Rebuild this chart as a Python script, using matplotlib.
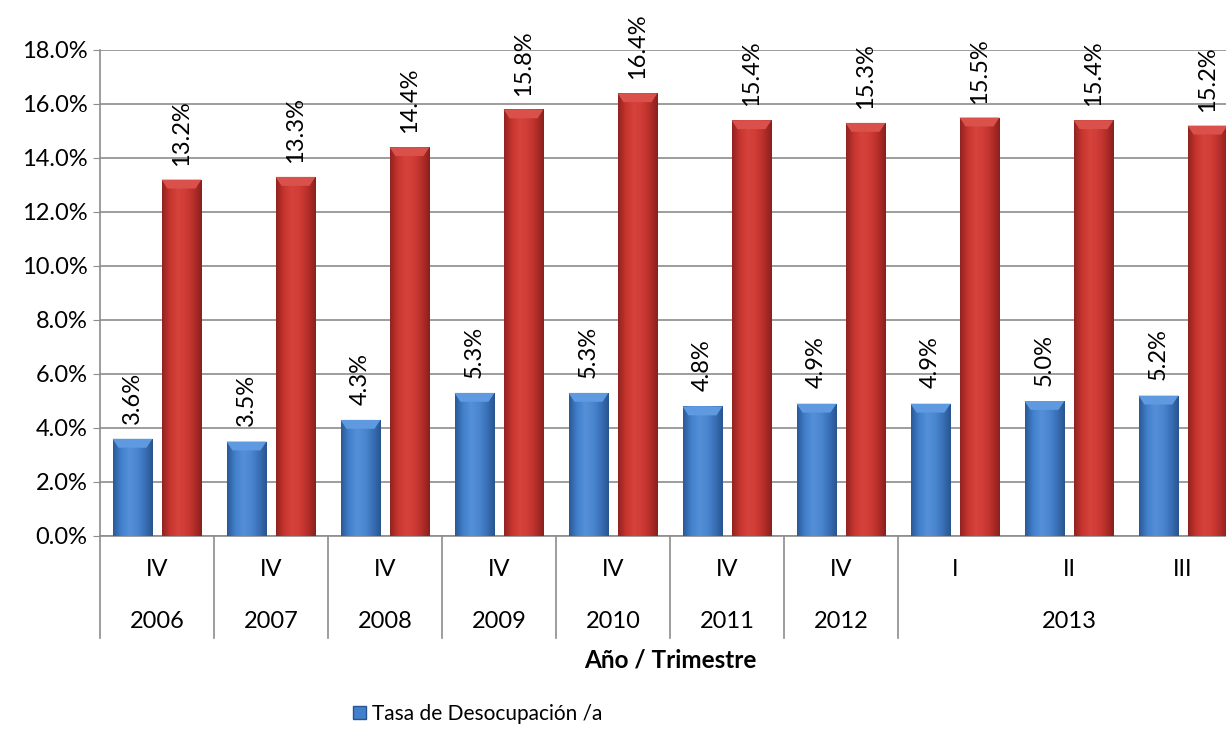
import numpy as np
import matplotlib
matplotlib.use("Agg")
import matplotlib.pyplot as plt
from matplotlib.colors import LinearSegmentedColormap
from matplotlib.patches import Patch, Polygon

plt.rcParams["font.family"] = ["Lato", "DejaVu Sans"]

quarters = ["IV", "IV", "IV", "IV", "IV", "IV", "IV", "I", "II", "III"]
years = ["2006", "2007", "2008", "2009", "2010", "2011", "2012", "2013"]
year_span = [1, 1, 1, 1, 1, 1, 1, 3]
desocupacion = [3.6, 3.5, 4.3, 5.3, 5.3, 4.8, 4.9, 4.9, 5.0, 5.2]
serie2 = [13.2, 13.3, 14.4, 15.8, 16.4, 15.4, 15.3, 15.5, 15.4, 15.2]
legend_label = "Tasa de Desocupación /a"

W, H = 1226, 730
FS = 17
fig = plt.figure(figsize=(W / 100, H / 100), dpi=100)
ax = fig.add_axes([100 / W, (H - 536) / H, 1140 / W, 486 / H])

BLUE = LinearSegmentedColormap.from_list(
    "b", ["#2a5a98", "#4280cc", "#548fd8", "#4b87d0", "#3a71b8", "#28558f"])
RED = LinearSegmentedColormap.from_list(
    "r", ["#922320", "#c8352f", "#d6433d", "#cf3c36", "#b72f2a", "#8a201d"])
BLUE_TOP = "#5f9ae0"
RED_TOP = "#da514b"

x = np.arange(len(quarters))
bw, off = 0.35, 0.215
grad = np.linspace(0, 1, 64).reshape(1, -1)


def fancy_bars(xs, vals, cmap, topc):
    bars = ax.bar(xs, vals, width=bw, color="none", edgecolor="none", zorder=3)
    for b in bars:
        x0, w, h = b.get_x(), b.get_width(), b.get_height()
        im = ax.imshow(grad, extent=[x0, x0 + w, 0, h], aspect="auto",
                       cmap=cmap, zorder=3, interpolation="bilinear")
        im.set_clip_path(b)
        dx, dy = w * 0.15, 0.33
        ax.add_patch(Polygon([[x0, h], [x0 + w, h], [x0 + w - dx, h - dy],
                              [x0 + dx, h - dy]], closed=True,
                             facecolor=topc, edgecolor="none", zorder=4))
    return bars


fancy_bars(x - off, desocupacion, BLUE, BLUE_TOP)
fancy_bars(x + off, serie2, RED, RED_TOP)

for xi, v in zip(x - off, desocupacion):
    ax.annotate(f"{v:.1f}%", (xi, v), xytext=(0, 11), textcoords="offset points",
                rotation=90, ha="center", va="bottom", fontsize=FS, zorder=5)
for xi, v in zip(x + off, serie2):
    ax.annotate(f"{v:.1f}%", (xi, v), xytext=(0, 10), textcoords="offset points",
                rotation=90, ha="center", va="bottom", fontsize=FS, zorder=5,
                annotation_clip=False)

ax.set_xlim(-0.5, len(quarters) - 0.5)
ax.set_ylim(0, 18)
ax.set_yticks(np.arange(0, 18.1, 2))
ax.set_yticklabels([f"{t:.1f}%" for t in np.arange(0, 18.1, 2)], fontsize=FS)
ax.yaxis.grid(True, color="#8c8c8c", lw=1.2, zorder=0)
ax.set_axisbelow(True)
ax.set_xticks([])
ax.tick_params(axis="y", length=5, color="#8c8c8c", pad=4)
for s in ["top", "right"]:
    ax.spines[s].set_visible(False)
for s in ["left", "bottom"]:
    ax.spines[s].set_color("#8c8c8c")
    ax.spines[s].set_linewidth(1.2)

# multi-level category axis
tr = ax.get_xaxis_transform()
for xi, q in zip(x, quarters):
    ax.text(xi, -0.068, q, transform=tr, ha="center", va="center", fontsize=FS)
start = 0
for yr, span in zip(years, year_span):
    ax.plot([start - 0.5, start - 0.5], [0, -0.21], transform=tr, color="#8c8c8c",
            lw=1.2, clip_on=False)
    ax.text(start + (span - 1) / 2, -0.175, yr, transform=tr, ha="center",
            va="center", fontsize=FS)
    start += span

ax.text(0.5, -0.255, "Año / Trimestre", transform=ax.transAxes, ha="center",
        va="center", fontsize=17.5, fontweight="bold")

fig.legend(handles=[Patch(facecolor="#4280cc", edgecolor="#28558f")],
           labels=[legend_label], loc="center", bbox_to_anchor=(478 / W, 16 / H),
           frameon=False, fontsize=15, handlelength=0.6, handleheight=0.6,
           handletextpad=0.3)

fig.savefig("out.png", dpi=100)
